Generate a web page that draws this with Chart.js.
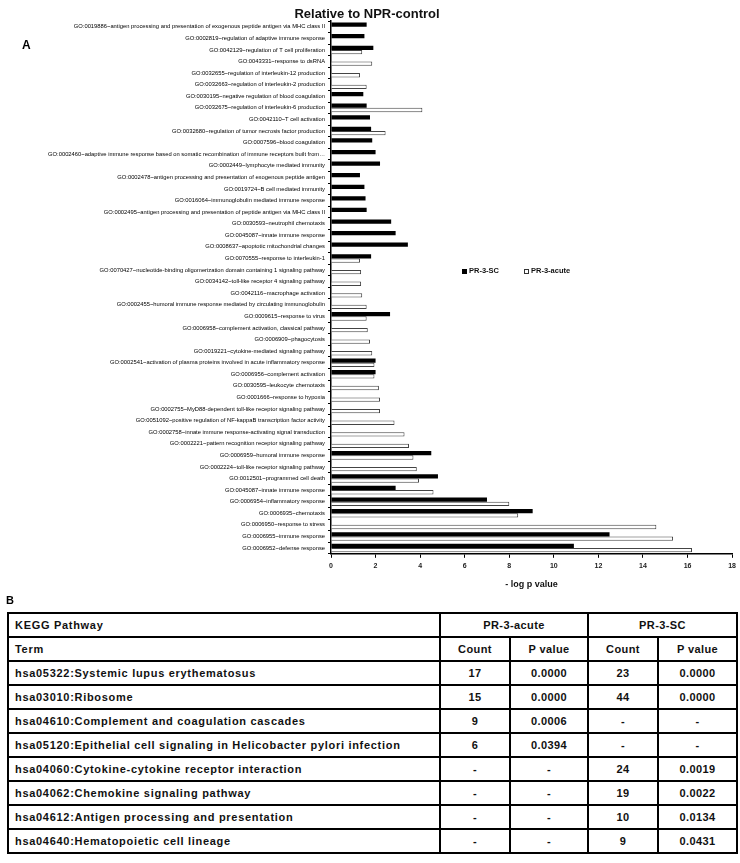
<!DOCTYPE html>
<html>
<head>
<meta charset="utf-8">
<script src="https://cdn.jsdelivr.net/npm/chart.js@4.4.0/dist/chart.umd.min.js"></script>
<style>
  body { margin: 0; background: #fff; font-family: "Liberation Sans", Arial, sans-serif; }
  #wrap { position: relative; width: 740px; height: 863px; }
  #goChart { position: absolute; left: 0; top: 0; }
  .panel { position: absolute; font-weight: bold; font-size: 12px; color: #000; }
  .legend { position: absolute; top: 266px; font-size: 7.5px; font-weight: bold; color: #111; white-space: nowrap; }
  .legend i { display: inline-block; width: 5px; height: 5px; margin-right: 2px; vertical-align: -0.5px; box-sizing: border-box; }
  #keggTable { position: absolute; left: 7px; top: 612px; width: 729px; border-collapse: collapse; table-layout: fixed; }
  #keggTable td { border: 2px solid #000; height: 22px; padding: 0 6px; font-size: 11px; font-weight: bold; letter-spacing: 0.7px; color: #111; white-space: nowrap; }
  #keggTable td.c { text-align: center; padding: 0; letter-spacing: 0.4px; }
</style>
</head>
<body>
<div id="wrap">
  <canvas id="goChart" width="740" height="596"></canvas>
  <div class="panel" style="left:22px; top:38px;">A</div>
  <div class="legend" style="left:462px;"><i style="background:#000;"></i>PR-3-SC</div>
  <div class="legend" style="left:524px;"><i style="border:1px solid #333; background:#fff;"></i>PR-3-acute</div>
  <div class="panel" style="left:6px; top:594px; font-size:11px;">B</div>
  <table id="keggTable"></table>
</div>
<script>
// GO terms, top to bottom
const goTerms = [
  "GO:0019886~antigen processing and presentation of exogenous peptide antigen via MHC class II",
  "GO:0002819~regulation of adaptive immune response",
  "GO:0042129~regulation of T cell proliferation",
  "GO:0043331~response to dsRNA",
  "GO:0032655~regulation of interleukin-12 production",
  "GO:0032663~regulation of interleukin-2 production",
  "GO:0030195~negative regulation of blood coagulation",
  "GO:0032675~regulation of interleukin-6 production",
  "GO:0042110~T cell activation",
  "GO:0032680~regulation of tumor necrosis factor production",
  "GO:0007596~blood coagulation",
  "GO:0002460~adaptive immune response based on somatic recombination of immune receptors built from\u2026",
  "GO:0002449~lymphocyte mediated immunity",
  "GO:0002478~antigen processing and presentation of exogenous peptide antigen",
  "GO:0019724~B cell mediated immunity",
  "GO:0016064~immunoglobulin mediated immune response",
  "GO:0002495~antigen processing and presentation of peptide antigen via MHC class II",
  "GO:0030593~neutrophil chemotaxis",
  "GO:0045087~innate immune response",
  "GO:0008637~apoptotic mitochondrial changes",
  "GO:0070555~response to interleukin-1",
  "GO:0070427~nucleotide-binding oligomerization domain containing 1 signaling pathway",
  "GO:0034142~toll-like receptor 4 signaling pathway",
  "GO:0042116~macrophage activation",
  "GO:0002455~humoral immune response mediated by circulating immunoglobulin",
  "GO:0009615~response to virus",
  "GO:0006958~complement activation, classical pathway",
  "GO:0006909~phagocytosis",
  "GO:0019221~cytokine-mediated signaling pathway",
  "GO:0002541~activation of plasma proteins involved in acute inflammatory response",
  "GO:0006956~complement activation",
  "GO:0030595~leukocyte chemotaxis",
  "GO:0001666~response to hypoxia",
  "GO:0002755~MyD88-dependent toll-like receptor signaling pathway",
  "GO:0051092~positive regulation of NF-kappaB transcription factor activity",
  "GO:0002758~innate immune response-activating signal transduction",
  "GO:0002221~pattern recognition receptor signaling pathway",
  "GO:0006959~humoral immune response",
  "GO:0002224~toll-like receptor signaling pathway",
  "GO:0012501~programmed cell death",
  "GO:0045087~innate immune response",
  "GO:0006954~inflammatory response",
  "GO:0006935~chemotaxis",
  "GO:0006950~response to stress",
  "GO:0006955~immune response",
  "GO:0006952~defense response"
];

// -log p values (null = term not enriched)
const scValues = [
  1.6, 1.5, 1.9, null, null, null, 1.45, 1.6, 1.75, 1.8,
  1.85, 2.0, 2.2, 1.3, 1.5, 1.55, 1.6, 2.7, 2.9, 3.45,
  1.8, null, null, null, null, 2.65, null, null, null, 2.0,
  2.0, null, null, null, null, null, null, 4.5, null, 4.8,
  2.9, 7.0, 9.05, null, 12.5, 10.9
];
const acuteValues = [
  null, null, 1.4, 1.85, 1.3, 1.6, null, 4.1, null, 2.45,
  null, null, null, null, null, null, null, null, null, null,
  1.3, 1.35, 1.35, 1.4, 1.6, 1.6, 1.65, 1.75, 1.85, 1.95,
  1.95, 2.15, 2.2, 2.2, 2.85, 3.3, 3.5, 3.7, 3.85, 3.95,
  4.6, 8.0, 8.4, 14.6, 15.35, 16.2
];
const xTicks = [0, 2, 4, 6, 8, 10, 12, 14, 16, 18];

// KEGG table
const keggTerms = [
  "hsa05322:Systemic lupus erythematosus",
  "hsa03010:Ribosome",
  "hsa04610:Complement and coagulation cascades",
  "hsa05120:Epithelial cell signaling in Helicobacter pylori infection",
  "hsa04060:Cytokine-cytokine receptor interaction",
  "hsa04062:Chemokine signaling pathway",
  "hsa04612:Antigen processing and presentation",
  "hsa04640:Hematopoietic cell lineage"
];
const acuteCount = ["17", "15", "9", "6", "-", "-", "-", "-"];
const acuteP = ["0.0000", "0.0000", "0.0006", "0.0394", "-", "-", "-", "-"];
const scCount = ["23", "44", "-", "-", "24", "19", "10", "9"];
const scP = ["0.0000", "0.0000", "-", "-", "0.0019", "0.0022", "0.0134", "0.0431"];

const table = document.getElementById('keggTable');
let html = '<colgroup><col style="width:432px"><col style="width:70px"><col style="width:78px"><col style="width:70px"><col style="width:79px"></colgroup>';
html += '<tr><td>KEGG Pathway</td><td class="c" colspan="2">PR-3-acute</td><td class="c" colspan="2">PR-3-SC</td></tr>';
html += '<tr><td>Term</td><td class="c">Count</td><td class="c">P value</td><td class="c">Count</td><td class="c">P value</td></tr>';
keggTerms.forEach((t, i) => {
  html += `<tr><td>${t}</td><td class="c">${acuteCount[i]}</td><td class="c">${acuteP[i]}</td><td class="c">${scCount[i]}</td><td class="c">${scP[i]}</td></tr>`;
});
table.innerHTML = html;

const ctx = document.getElementById('goChart').getContext('2d');

new Chart(ctx, {
  type: 'bar',
  data: {
    labels: goTerms,
    datasets: [
      {
        label: 'PR-3-SC',
        data: scValues,
        backgroundColor: '#000',
        borderWidth: 0,
        categoryPercentage: 0.74,
        barPercentage: 1.0
      },
      {
        label: 'PR-3-acute',
        data: acuteValues,
        backgroundColor: '#fff',
        borderColor: '#444',
        borderWidth: 1,
        categoryPercentage: 0.74,
        barPercentage: 1.0
      }
    ]
  },
  options: {
    indexAxis: 'y',
    responsive: false,
    animation: false,
    layout: { padding: { left: 0, right: 6, top: 0, bottom: 2 } },
    plugins: {
      legend: { display: false },
      tooltip: { enabled: false },
      title: {
        display: true,
        text: 'Relative to NPR-control',
        color: '#111',
        font: { family: 'Liberation Sans, Arial', size: 13, weight: 'bold', lineHeight: 1.0 },
        padding: { top: 8, bottom: 0 }
      }
    },
    scales: {
      x: {
        min: 0,
        max: 18,
        afterBuildTicks: scale => { scale.ticks = xTicks.map(v => ({ value: v })); },
        grid: { display: true, drawOnChartArea: false, drawTicks: true, tickLength: 4, color: '#000', lineWidth: 1 },
        border: { display: true, color: '#000', width: 1.5 },
        ticks: {
          color: '#222',
          padding: 4,
          maxRotation: 0,
          font: { family: 'Liberation Sans, Arial', size: 7, weight: 'bold' }
        },
        title: {
          display: true,
          text: '- log p value',
          color: '#111',
          padding: { top: 5, bottom: 4 },
          font: { family: 'Liberation Sans, Arial', size: 9, weight: 'bold' }
        }
      },
      y: {
        afterFit: scale => { scale.width = 331; },
        grid: { display: true, drawOnChartArea: false, drawTicks: true, tickLength: 3, color: '#000', lineWidth: 1 },
        border: { display: true, color: '#000', width: 1.5 },
        ticks: {
          autoSkip: false,
          color: '#000',
          padding: 3,
          font: { family: 'Liberation Sans, Arial', size: 5.8 }
        }
      }
    }
  }
});
</script>
</body>
</html>
